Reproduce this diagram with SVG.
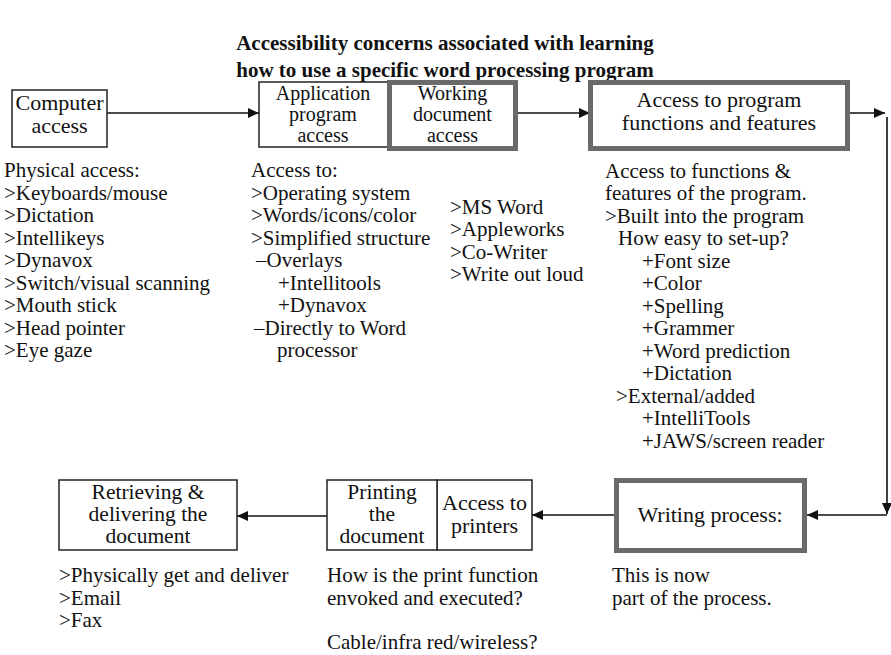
<svg xmlns="http://www.w3.org/2000/svg" width="891" height="655" viewBox="0 0 891 655">
<defs>
<marker id="arr" markerUnits="userSpaceOnUse" markerWidth="12" markerHeight="10" refX="11" refY="5" orient="auto">
<path d="M0,0 L11,5 L0,10 z" fill="#111"/>
</marker>
<style>
text{font-family:"Liberation Serif","Times New Roman",serif;fill:#111}
.t{font-size:21px;font-weight:bold;text-anchor:middle}
.b{font-size:21px}
.bx{font-size:22px;text-anchor:middle}
.bx3{font-size:20px;text-anchor:middle}
.bx2{font-size:21.5px;text-anchor:middle}
.thin{fill:#fff;stroke:#222;stroke-width:1.5}
.thick{fill:#fff;stroke:#6a6a6a;stroke-width:5}
.c{fill:none;stroke:#111;stroke-width:1.6}
</style>
</defs>
<rect width="891" height="655" fill="#fff"/>
<g id="title">
<text class="t" x="445" y="50">Accessibility concerns associated with learning</text>
<text class="t" x="445" y="77">how to use a specific word processing program</text>
</g>
<g id="connectors">
<line class="c" x1="107" y1="113" x2="259" y2="113" marker-end="url(#arr)"/>
<line class="c" x1="518" y1="113" x2="590" y2="113" marker-end="url(#arr)"/>
<line class="c" x1="850" y1="113" x2="885" y2="113" marker-end="url(#arr)"/>
<line class="c" x1="887" y1="117" x2="887" y2="514" marker-end="url(#arr)"/>
<line class="c" x1="887" y1="515" x2="807" y2="515" marker-end="url(#arr)"/>
<line class="c" x1="614" y1="515" x2="532" y2="515" marker-end="url(#arr)"/>
<line class="c" x1="327" y1="516" x2="237" y2="516" marker-end="url(#arr)"/>
</g>
<g id="computer-access">
<rect class="thin" x="12" y="90" width="95" height="57"/>
<text class="bx" x="59.5" y="110">Computer</text>
<text class="bx" x="59.5" y="133">access</text>
</g>
<g id="application-program-access">
<rect class="thin" x="259" y="82" width="130" height="65"/>
<text class="bx3" x="323" y="100">Application</text>
<text class="bx3" x="323" y="121">program</text>
<text class="bx3" x="323" y="142">access</text>
</g>
<g id="working-document-access">
<rect class="thick" x="389.5" y="82.5" width="126" height="66"/>
<text class="bx3" x="452.5" y="100">Working</text>
<text class="bx3" x="452.5" y="121">document</text>
<text class="bx3" x="452.5" y="142">access</text>
</g>
<g id="access-program-functions">
<rect class="thick" x="590.5" y="82.5" width="257" height="66"/>
<text class="bx" x="719" y="107">Access to program</text>
<text class="bx" x="719" y="130">functions and features</text>
</g>
<g id="writing-process">
<rect class="thick" x="616.5" y="480.5" width="188" height="70"/>
<text class="bx" x="710" y="522">Writing process:</text>
</g>
<g id="access-to-printers">
<rect class="thin" x="437" y="480" width="95" height="70"/>
<text class="bx" x="484.5" y="510">Access to</text>
<text class="bx" x="484.5" y="533">printers</text>
</g>
<g id="printing-the-document">
<rect class="thin" x="327" y="480" width="110" height="70"/>
<text class="bx2" x="382" y="499">Printing</text>
<text class="bx2" x="382" y="521">the</text>
<text class="bx2" x="382" y="543">document</text>
</g>
<g id="retrieving-delivering">
<rect class="thin" x="59" y="480" width="178" height="70"/>
<text class="bx2" x="148" y="499">Retrieving &amp;</text>
<text class="bx2" x="148" y="521">delivering the</text>
<text class="bx2" x="148" y="543">document</text>
</g>
<g id="notes-computer">
<text class="b" x="4" y="177">Physical access:</text>
<text class="b" x="4" y="199.5">&gt;Keyboards/mouse</text>
<text class="b" x="4" y="222">&gt;Dictation</text>
<text class="b" x="4" y="244.5">&gt;Intellikeys</text>
<text class="b" x="4" y="267">&gt;Dynavox</text>
<text class="b" x="4" y="289.5">&gt;Switch/visual scanning</text>
<text class="b" x="4" y="312">&gt;Mouth stick</text>
<text class="b" x="4" y="334.5">&gt;Head pointer</text>
<text class="b" x="4" y="357">&gt;Eye gaze</text>
</g>
<g id="notes-application">
<text class="b" x="251" y="177">Access to:</text>
<text class="b" x="251" y="199.5">&gt;Operating system</text>
<text class="b" x="251" y="222">&gt;Words/icons/color</text>
<text class="b" x="251" y="244.5">&gt;Simplified structure</text>
<text class="b" x="256" y="267">–Overlays</text>
<text class="b" x="278" y="289.5">+Intellitools</text>
<text class="b" x="278" y="312">+Dynavox</text>
<text class="b" x="254" y="334.5">–Directly to Word</text>
<text class="b" x="277" y="357">processor</text>
</g>
<g id="notes-working">
<text class="b" x="450" y="213.5">&gt;MS Word</text>
<text class="b" x="450" y="236">&gt;Appleworks</text>
<text class="b" x="450" y="258.5">&gt;Co-Writer</text>
<text class="b" x="450" y="281">&gt;Write out loud</text>
</g>
<g id="notes-functions">
<text class="b" x="605" y="177.5">Access to functions &amp;</text>
<text class="b" x="605" y="200">features of the program.</text>
<text class="b" x="605" y="222.5">&gt;Built into the program</text>
<text class="b" x="618" y="245">How easy to set-up?</text>
<text class="b" x="642" y="267.5">+Font size</text>
<text class="b" x="642" y="290">+Color</text>
<text class="b" x="642" y="312.5">+Spelling</text>
<text class="b" x="642" y="335">+Grammer</text>
<text class="b" x="642" y="357.5">+Word prediction</text>
<text class="b" x="642" y="380">+Dictation</text>
<text class="b" x="616" y="402.5">&gt;External/added</text>
<text class="b" x="642" y="425">+IntelliTools</text>
<text class="b" x="642" y="447.5">+JAWS/screen reader</text>
</g>
<g id="notes-retrieving">
<text class="b" x="59" y="582">&gt;Physically get and deliver</text>
<text class="b" x="59" y="604.5">&gt;Email</text>
<text class="b" x="59" y="627">&gt;Fax</text>
</g>
<g id="notes-printing">
<text class="b" x="327" y="582">How is the print function</text>
<text class="b" x="327" y="604.5">envoked and executed?</text>
<text class="b" x="327" y="649">Cable/infra red/wireless?</text>
</g>
<g id="notes-writing">
<text class="b" x="612" y="582">This is now</text>
<text class="b" x="612" y="604.5">part of the process.</text>
</g>
</svg>
